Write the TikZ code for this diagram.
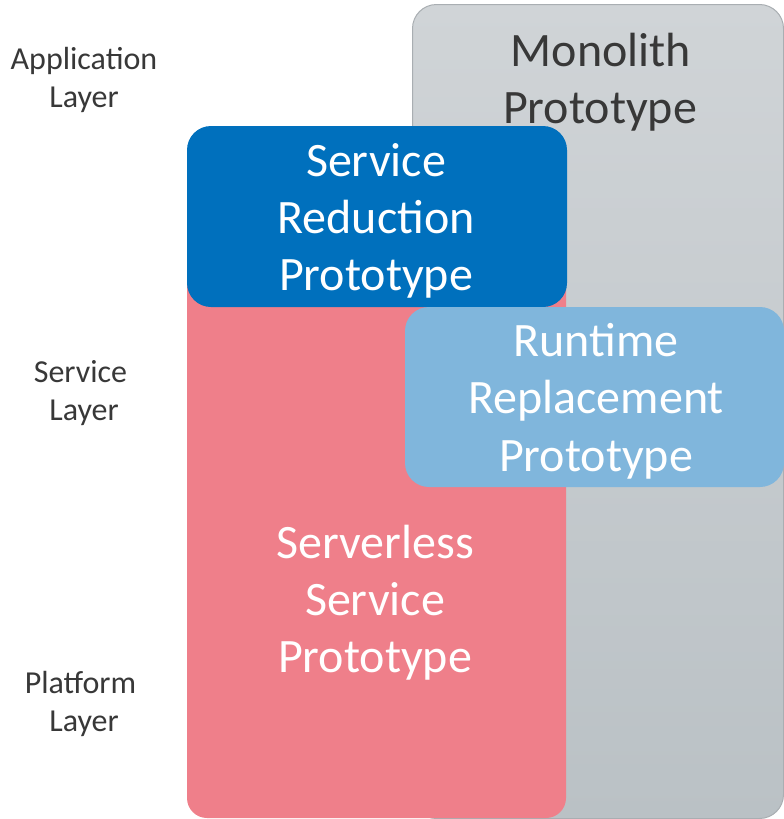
\documentclass[tikz,border=0pt]{standalone}
\usepackage{fontspec}
\setmainfont{Carlito}
\definecolor{grayTop}{HTML}{D0D4D7}
\definecolor{grayBot}{HTML}{BAC1C5}
\definecolor{grayEdge}{HTML}{A9AEB2}
\definecolor{pinkFill}{HTML}{EF7F8A}
\definecolor{blueFill}{HTML}{0070BD}
\definecolor{lightBlue}{HTML}{80B6DC}
\definecolor{darkText}{HTML}{383838}
\tikzset{
  bigtext/.style={font=\fontsize{48}{57}\selectfont, anchor=base, inner sep=0pt, text=white},
  layertext/.style={font=\fontsize{32}{38}\selectfont, anchor=base, inner sep=0pt, text=darkText},
  panel/.style={rounded corners=24pt}
}
\begin{document}
\begin{tikzpicture}[x=1pt,y=-1pt]
\useasboundingbox (0,0) rectangle (784,819);
% boxes
\shade[panel, top color=grayTop, bottom color=grayBot, draw=grayEdge, line width=1pt] (412.5,4.5) rectangle (783.5,818.5);
\fill[panel, pinkFill, rounded corners=20pt] (187,200) rectangle (566,818);
\fill[panel, blueFill] (187,126) rectangle (567,307);
\fill[panel, lightBlue] (405,307) rectangle (784,487);
% monolith
\node[bigtext, text=darkText] (mono1) at (601,66) {Monolith};
\node[bigtext, text=darkText] (mono2) at (600,123) {Prototype};
% service reduction
\node[bigtext] (sr1) at (376,176) {Service};
\node[bigtext] (sr2) at (376,233) {Reduction};
\node[bigtext] (sr3) at (376,290) {Prototype};
% runtime replacement
\node[bigtext] (rr1) at (596,356) {Runtime};
\node[bigtext] (rr2) at (596,413) {Replacement};
\node[bigtext] (rr3) at (596,471) {Prototype};
% serverless
\node[bigtext] (sv1) at (375,558) {Serverless};
\node[bigtext] (sv2) at (375,615) {Service};
\node[bigtext] (sv3) at (375,672) {Prototype};
% layer labels
\node[layertext] (al1) at (84,69) {Application};
\node[layertext] (al2) at (84,107) {Layer};
\node[layertext] (sl1) at (80.5,382) {Service};
\node[layertext] (sl2) at (84,420) {Layer};
\node[layertext] (pl1) at (80.5,693) {Platform};
\node[layertext] (pl2) at (84,731) {Layer};
\end{tikzpicture}
\end{document}
